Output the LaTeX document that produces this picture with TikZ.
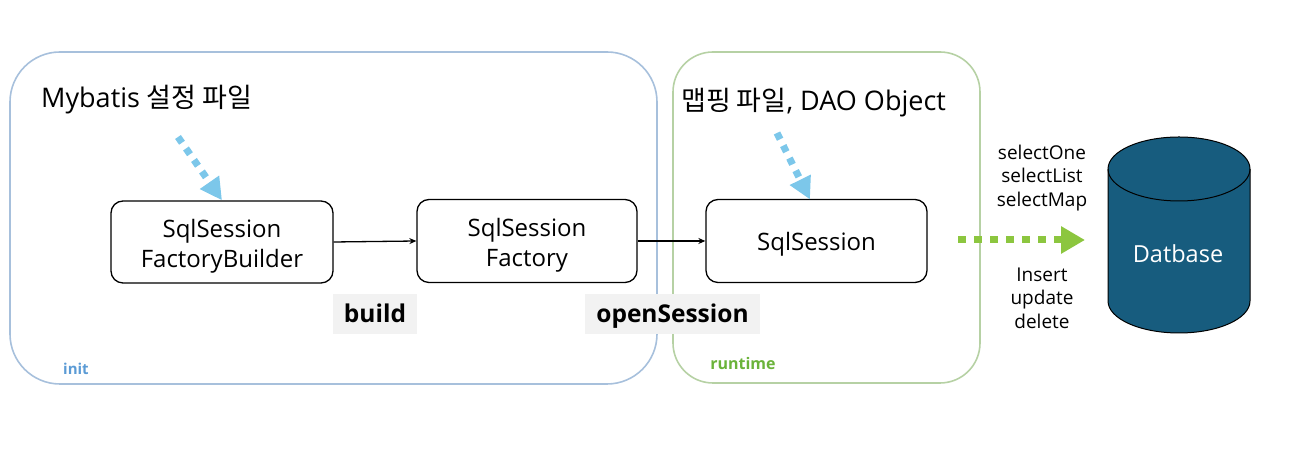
\documentclass[tikz,border=0pt]{standalone}
\usepackage{fontspec}
\setmainfont{Open Sans}
\newfontfamily\krfont{Noto Sans CJK KR}
\usetikzlibrary{arrows.meta}
\definecolor{initc}{HTML}{A7C0DC}
\definecolor{runc}{HTML}{B6D1A4}
\definecolor{initt}{HTML}{5B9BD5}
\definecolor{runt}{HTML}{6BB33A}
\definecolor{bluea}{HTML}{7CC7EA}
\definecolor{greena}{HTML}{8CC63F}
\definecolor{dbfill}{HTML}{175C7E}
\definecolor{lblbg}{HTML}{F2F2F2}
\tikzset{
  region/.style={line width=1.6pt, rounded corners=#1},
  proc/.style={draw, line width=1.3pt, rounded corners=12pt, align=center, font=\fontsize{24}{30}\selectfont, inner sep=0pt},
  lbl/.style={fill=lblbg, font=\fontsize{24.5}{28}\selectfont\bfseries, inner sep=0pt, text height=18pt, text depth=0pt},
  flow/.style={-{Stealth[length=7pt,width=6pt]}, line width=1.3pt},
  bluedash/.style={bluea, line width=7pt, dash pattern=on 7pt off 7pt, -{Triangle[length=22pt,width=22pt]}},
  greendash/.style={greena, line width=7pt, dash pattern=on 8pt off 8pt, -{Triangle[length=24pt,width=26pt]}},
  small/.style={font=\fontsize{19}{23.5}\selectfont, align=center, inner sep=0pt},
}
\begin{document}
\begin{tikzpicture}[x=1pt,y=1pt]
\useasboundingbox (0,0) rectangle (1302,470);
% regions
\draw[initc, region=50pt] (10,86) rectangle (657,418);
\draw[runc, region=40pt] (673,87) rectangle (980,418);
% titles
\node[anchor=west, inner sep=0pt, font=\fontsize{27}{32}\selectfont] (t1) at (41,370) {Mybatis {\krfont 설정 파일}};
\node[anchor=west, inner sep=0pt, font=\fontsize{27}{32}\selectfont] (t2) at (681,367) {{\krfont 맵핑 파일}, DAO Object};
% process boxes
\node[proc, minimum width=222pt, minimum height=82pt] (b1) at (222,228) {\rule{0pt}{27pt}SqlSession\\FactoryBuilder};
\node[proc, minimum width=220pt, minimum height=83pt] (b2) at (527,229) {\rule{0pt}{27pt}SqlSession\\Factory};
\node[proc, minimum width=221pt, minimum height=83pt] (b3) at (816.5,229) {\rule{0pt}{24pt}SqlSession};
% connectors
\draw[flow] (b1.east) -- (b2.west);
\draw[flow] (b2.east) -- (b3.west);
% labels
\node[lbl, minimum width=84pt, minimum height=40pt] (l1) at (375,156) {build};
\node[lbl, minimum width=175pt, minimum height=40pt] (l2) at (672.5,156) {openSession};
\node[anchor=west, inner sep=0pt, text=initt, font=\fontsize{15}{17}\selectfont\bfseries] (n1) at (63,101) {init};
\node[inner sep=0pt, text=runt, font=\fontsize{16}{18}\selectfont\bfseries] (n2) at (743,106) {runtime};
% blue dashed arrows
\coordinate (s1) at (178,333);
\coordinate (s2) at (777,337);
\draw[bluedash] (s1) -- (b1.north);
\draw[bluedash] (s2) -- (810,270.5);
% database
\draw[line width=1pt, fill=dbfill] (1108,301) -- (1108,169) arc (180:360:71 and 32) -- (1250,301) arc (0:180:71 and 32) -- cycle;
\draw[line width=1pt] (1108,301) arc (180:360:71 and 32);
\node[text=white, font=\fontsize{23.5}{28}\selectfont, inner sep=0pt] (db) at (1178,216) {Datbase};
\coordinate (g1) at (958,230);
\draw[greendash] (g1) -- (1085,230);
\node[small] (q1) at (1042,292) {selectOne\\selectList\\selectMap};
\node[small] (q2) at (1042,172) {Insert\\update\\delete};
\end{tikzpicture}
\end{document}
